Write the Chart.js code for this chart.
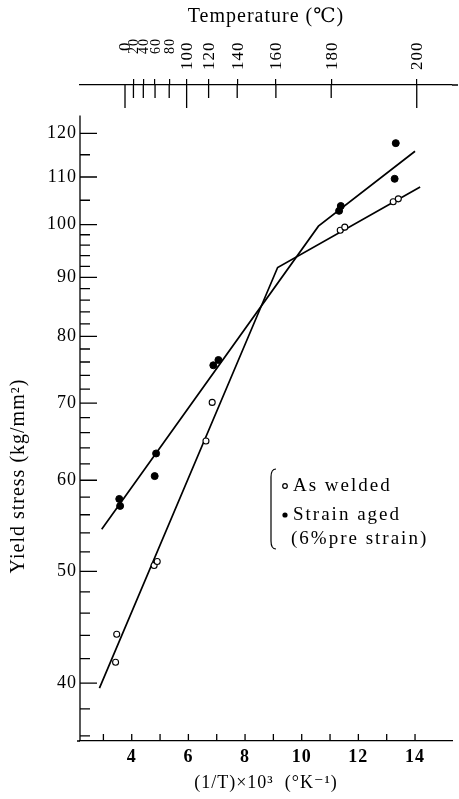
<!DOCTYPE html>
<html>
<head>
<meta charset="utf-8">
<script src="https://cdn.jsdelivr.net/npm/chart.js@4.4.1/dist/chart.umd.min.js"></script>
<style>
  html, body { margin: 0; padding: 0; background: #fff; }
  #wrap { width: 459px; height: 799px; }
</style>
</head>
<body>
<div id="wrap"><canvas id="chart-yield"></canvas></div>
<script>
//
// Yield stress vs 1/T chart
//

// Data
var asWeldedX = [3.43, 3.47, 4.79, 4.90, 6.62, 6.84, 11.36, 11.52, 13.23, 13.41];
var asWeldedY = [41.7, 44.1, 50.6, 51.0, 64.9, 70.1, 98.9, 99.5, 104.7, 105.3];
var strainAgedX = [3.56, 3.59, 4.81, 4.86, 6.88, 7.06, 11.32, 11.38, 13.28, 13.32];
var strainAgedY = [57.8, 57.0, 60.5, 63.3, 75.5, 76.3, 102.8, 103.8, 109.6, 117.7];

// Fitted lines (broken straight lines)
var weldedFitX = [2.86, 9.15, 14.18];
var weldedFitY = [39.6, 91.8, 107.8];
var agedFitX = [2.94, 10.59, 14.0];
var agedFitY = [54.4, 99.7, 115.8];

// Tick labels
var xTicks = [4, 6, 8, 10, 12, 14];
var xMinorTicks = [3, 4, 5, 6, 7, 8, 9, 10, 11, 12, 13, 14];
var yTicks = [40, 50, 60, 70, 80, 90, 100, 110, 120];
var yMinorTicks = [36, 38, 42, 44, 46, 48, 52, 54, 56, 58, 62, 64, 66, 68, 72, 74, 76, 78,
                   82, 84, 86, 88, 92, 94, 96, 98, 105, 115];
var tempTicks = [0, 20, 40, 60, 80, 100, 120, 140, 160, 180, 200];
var legendLabels = ["As welded", "Strain aged", "(6%pre strain)"];

var serif = '"Liberation Serif", "DejaVu Serif", serif';

function toPoints(xs, ys) {
  return xs.map(function (x, i) { return { x: x, y: ys[i] }; });
}
function invT(t) { return 1000 / (273.15 - t); }

// Axis marks drawn inward, plus the bracket legend
var axisMarks = {
  id: "axisMarks",
  beforeDraw: function (chart) {
    chart.ctx.letterSpacing = "1px";
  },
  afterDraw: function (chart) {
    var ctx = chart.ctx;
    var a = chart.chartArea;
    var xs = chart.scales.x, ys = chart.scales.y, xt = chart.scales.x2;
    ctx.save();
    ctx.strokeStyle = "#000";
    ctx.lineWidth = 1.3;
    ctx.beginPath();
    // y axis line
    ctx.moveTo(a.left, ys.getPixelForValue(124.4));
    ctx.lineTo(a.left, a.bottom);
    // axis lines run a little past the plot box
    ctx.moveTo(a.right, a.top); ctx.lineTo(a.right + 6, a.top);
    ctx.moveTo(a.left - 3, a.bottom); ctx.lineTo(a.left, a.bottom);
    yTicks.forEach(function (v) {
      var p = ys.getPixelForValue(v);
      ctx.moveTo(a.left, p); ctx.lineTo(a.left + 17, p);
    });
    yMinorTicks.forEach(function (v) {
      var p = ys.getPixelForValue(v);
      ctx.moveTo(a.left, p); ctx.lineTo(a.left + 10, p);
    });
    xMinorTicks.forEach(function (v) {
      var p = xs.getPixelForValue(v);
      ctx.moveTo(p, a.bottom); ctx.lineTo(p, a.bottom - 7);
    });
    tempTicks.forEach(function (t) {
      var p = xt.getPixelForValue(invT(t));
      var len = (t % 100 === 0) ? 23 : 13;
      ctx.moveTo(p, a.top); ctx.lineTo(p, a.top + len);
    });
    ctx.stroke();

    // legend bracket
    var bx = 271, by0 = 469, by1 = 549;
    ctx.lineWidth = 1.2;
    ctx.beginPath();
    ctx.moveTo(bx + 5, by0);
    ctx.quadraticCurveTo(bx, by0, bx, by0 + 8);
    ctx.lineTo(bx, by1 - 8);
    ctx.quadraticCurveTo(bx, by1, bx + 5, by1);
    ctx.stroke();

    // legend markers
    ctx.beginPath();
    ctx.arc(285, 486, 2.3, 0, Math.PI * 2);
    ctx.fillStyle = "#fff"; ctx.fill(); ctx.stroke();
    ctx.beginPath();
    ctx.arc(285, 515, 2.6, 0, Math.PI * 2);
    ctx.fillStyle = "#000"; ctx.fill();

    ctx.fillStyle = "#000";
    ctx.font = "19px " + serif;
    ctx.letterSpacing = "2px";
    ctx.textBaseline = "middle";
    ctx.textAlign = "left";
    ctx.fillText(legendLabels[0], 293, 486);
    ctx.fillText(legendLabels[1], 293, 515);
    ctx.fillText(legendLabels[2], 291, 539);
    ctx.restore();
  }
};

var $chart = document.getElementById("chart-yield");

var yieldChart = new Chart($chart, {
  type: "scatter",
  data: {
    datasets: [
      {
        label: legendLabels[0],
        data: toPoints(asWeldedX, asWeldedY),
        pointStyle: "circle",
        pointRadius: 3,
        backgroundColor: "#fff",
        borderColor: "#000",
        borderWidth: 1.1,
        order: 0
      },
      {
        label: legendLabels[1],
        data: toPoints(strainAgedX, strainAgedY),
        pointStyle: "circle",
        pointRadius: 3.5,
        backgroundColor: "#000",
        borderColor: "#000",
        order: 0
      },
      {
        label: "As welded fit",
        data: toPoints(weldedFitX, weldedFitY),
        showLine: true,
        pointRadius: 0,
        borderColor: "#000",
        borderWidth: 1.7,
        order: 1
      },
      {
        label: "Strain aged fit",
        data: toPoints(agedFitX, agedFitY),
        showLine: true,
        pointRadius: 0,
        borderColor: "#000",
        borderWidth: 1.7,
        order: 1
      }
    ]
  },
  options: {
    responsive: true,
    maintainAspectRatio: false,
    animation: false,
    layout: { padding: { left: 0, right: 7, top: 0, bottom: 0 } },
    plugins: {
      legend: { display: false },
      tooltip: { enabled: false }
    },
    scales: {
      x: {
        type: "linear",
        position: "bottom",
        min: 2.174,
        max: 15.305,
        afterBuildTicks: function (scale) {
          scale.ticks = xTicks.map(function (v) { return { value: v }; });
        },
        afterFit: function (scale) { scale.height = 58; },
        grid: { drawOnChartArea: false, drawTicks: false },
        border: { display: true, color: "#000", width: 1.3 },
        ticks: {
          autoSkip: false,
          maxRotation: 0,
          padding: 6,
          color: "#000",
          font: { family: serif, size: 18, weight: "bold" }
        },
        title: {
          display: true,
          text: "(1/T)×10³  (°K⁻¹)",
          color: "#000",
          font: { family: serif, size: 18 },
          padding: { top: 0, bottom: 5 }
        }
      },
      x2: {
        type: "linear",
        position: "top",
        min: 2.117,
        max: 14.88,
        afterBuildTicks: function (scale) {
          scale.ticks = tempTicks.map(function (t) { return { value: invT(t) }; });
        },
        afterFit: function (scale) { scale.height = 85; },
        grid: {
          drawOnChartArea: false,
          drawTicks: true,
          tickLength: 6,
          lineWidth: 1.2,
          color: function (c) { return c.index === 0 ? "rgba(0,0,0,0)" : "#000"; }
        },
        border: { display: true, color: "#000", width: 1.3 },
        ticks: {
          autoSkip: false,
          minRotation: 90,
          maxRotation: 90,
          padding: 9,
          labelOffset: 21,
          color: "#000",
          font: function (c) {
            var t = tempTicks[c.index];
            return { family: serif, size: (t > 0 && t < 100) ? 14 : 17, lineHeight: "20px" };
          },
          callback: function (value, index) {
            var t = tempTicks[index];
            if (t === 0) return "\u2007\u20070";
            if (t < 100) return "\u2007\u2007" + t;
            return String(t);
          }
        },
        title: {
          display: true,
          text: "Temperature (℃)",
          color: "#000",
          font: { family: serif, size: 20 },
          padding: { top: 5, bottom: 0 }
        }
      },
      y: {
        type: "logarithmic",
        position: "left",
        min: 35.63,
        max: 132.2,
        afterBuildTicks: function (scale) {
          scale.ticks = yTicks.map(function (v) { return { value: v }; });
        },
        afterFit: function (scale) { scale.width = 80; },
        grid: { drawOnChartArea: false, drawTicks: false },
        border: { display: false },
        ticks: {
          autoSkip: false,
          padding: 3,
          color: "#000",
          font: { family: serif, size: 18 },
          callback: function (value) { return String(value); }
        },
        title: {
          display: true,
          text: "Yield stress (kg/mm²)\u2003\u2003\u2003\u2003\u2003\u2003",
          color: "#000",
          font: { family: serif, size: 20 },
          padding: { top: 7, bottom: 0 }
        }
      }
    }
  },
  plugins: [axisMarks]
});
</script>
</body>
</html>
